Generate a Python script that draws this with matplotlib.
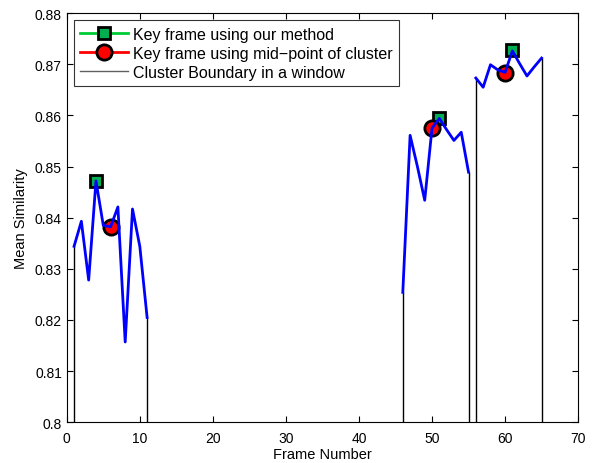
import matplotlib
matplotlib.use("Agg")
import matplotlib.pyplot as plt
from matplotlib.lines import Line2D

plt.rcParams['font.family'] = ['Liberation Sans', 'DejaVu Sans']

# Cluster data (frame numbers and mean similarity)
c1_frames = [1, 2, 3, 4, 5, 6, 7, 8, 9, 10, 11]
c1_vals = [0.8344, 0.8393, 0.8278, 0.8472, 0.8385, 0.8382, 0.8421, 0.8157, 0.8417, 0.8344, 0.8205]
c2_frames = [46, 47, 48, 49, 50, 51, 52, 53, 54, 55]
c2_vals = [0.8254, 0.8561, 0.8500, 0.8434, 0.8575, 0.8594, 0.8572, 0.8551, 0.8567, 0.8489]
c3_frames = [56, 57, 58, 59, 60, 61, 62, 63, 64, 65]
c3_vals = [0.8673, 0.8655, 0.8699, 0.8689, 0.8684, 0.8726, 0.8701, 0.8677, 0.8695, 0.8712]

# Key frames
our_frames = [4, 51, 61]
our_vals = [0.8471, 0.8595, 0.8727]
mid_frames = [6, 50, 60]
mid_vals = [0.8382, 0.8575, 0.8683]

# Cluster boundaries
bound_frames = [1, 11, 46, 55, 56, 65]
bound_vals = [0.8344, 0.8205, 0.8254, 0.8489, 0.8673, 0.8712]

xticks = [0, 10, 20, 30, 40, 50, 60, 70]
yticks = [0.80, 0.81, 0.82, 0.83, 0.84, 0.85, 0.86, 0.87, 0.88]
ytick_labels = ["0.8", "0.81", "0.82", "0.83", "0.84", "0.85", "0.86", "0.87", "0.88"]

fig = plt.figure(figsize=(5.96, 4.64), dpi=100)
ax = fig.add_axes([0.112, 0.0877, 0.858, 0.882])

ax.vlines(bound_frames, 0.80, bound_vals, colors="black", lw=1, zorder=2)

ax.plot(our_frames, our_vals, linestyle="none", marker="s", markersize=9,
        markerfacecolor="#00b050", markeredgecolor="black", markeredgewidth=2, zorder=3)
ax.plot(mid_frames, mid_vals, linestyle="none", marker="o", markersize=11,
        markerfacecolor="#ff0000", markeredgecolor="black", markeredgewidth=2, zorder=4)

for fr, v in [(c1_frames, c1_vals), (c2_frames, c2_vals), (c3_frames, c3_vals)]:
    ax.plot(fr, v, color="#0000ff", lw=2, zorder=5)

handles = [
    Line2D([], [], color="#00cc33", lw=2, marker="s", markersize=9,
           markerfacecolor="#00b050", markeredgecolor="black", markeredgewidth=2),
    Line2D([], [], color="#ff0000", lw=2, marker="o", markersize=11,
           markerfacecolor="#ff0000", markeredgecolor="black", markeredgewidth=2),
    Line2D([], [], color="#606060", lw=1),
]
labels = ["Key frame using our method", "Key frame using mid\u2212point of cluster",
          "Cluster Boundary in a window"]
leg = ax.legend(handles, labels, loc="upper left", bbox_to_anchor=(0.0, 1.0),
                fontsize=11.5, frameon=True, fancybox=False, edgecolor="black",
                handlelength=3.0, borderpad=0.4, labelspacing=0.25, handletextpad=0.3,
                borderaxespad=0.45)
leg.get_frame().set_linewidth(0.8)

ax.set_xlim(0, 70)
ax.set_ylim(0.80, 0.88)
ax.set_xticks(xticks)
ax.set_yticks(yticks)
ax.set_yticklabels(ytick_labels)
ax.tick_params(direction="in", top=True, right=True, labelsize=10, length=4)
ax.tick_params(axis="x", pad=6)
ax.set_xlabel("Frame Number", fontsize=10.5, labelpad=2)
ax.set_ylabel("Mean Similarity", fontsize=10.5, labelpad=5)

fig.savefig("out.png", dpi=100)
